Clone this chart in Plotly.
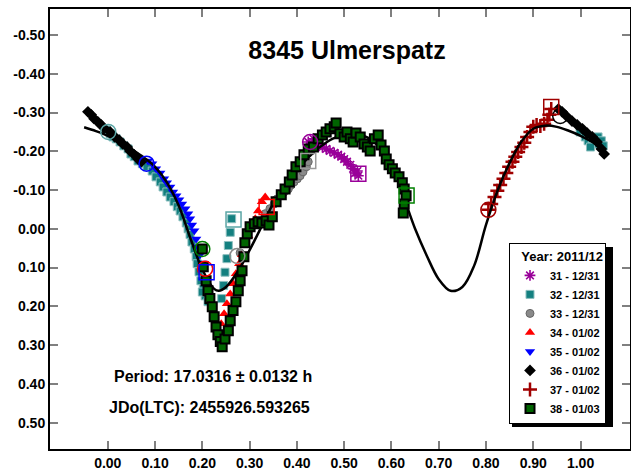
import plotly.graph_objects as go

# ---------------- data ----------------
# fitted Fourier curve
curve_phase = [-0.050, -0.025, 0.000, 0.025, 0.050, 0.075, 0.100, 0.125, 0.150, 0.175,
               0.200, 0.225, 0.235, 0.250, 0.275, 0.300, 0.325, 0.350, 0.375, 0.400,
               0.425, 0.450, 0.475, 0.500, 0.525, 0.550, 0.575, 0.600, 0.625, 0.650,
               0.675, 0.700, 0.725, 0.750, 0.775, 0.800, 0.825, 0.850, 0.875, 0.900,
               0.925, 0.950, 0.975, 1.000, 1.025, 1.050]
curve_mag = [-0.262, -0.252, -0.240, -0.224, -0.205, -0.185, -0.160, -0.120, -0.060, 0.025,
             0.105, 0.155, 0.160, 0.150, 0.110, 0.055, -0.005, -0.065, -0.110, -0.150,
             -0.185, -0.212, -0.232, -0.243, -0.245, -0.235, -0.210, -0.165, -0.085, 0.000,
             0.070, 0.130, 0.160, 0.150, 0.095, -0.010, -0.100, -0.170, -0.225, -0.258,
             -0.266, -0.263, -0.253, -0.240, -0.224, -0.205]

s31_phase = [0.424, 0.435, 0.445, 0.454, 0.462, 0.470, 0.479, 0.487, 0.494, 0.500,
             0.506, 0.513, 0.519, 0.523, 0.530, 0.528]
s31_mag = [-0.224, -0.232, -0.219, -0.211, -0.206, -0.201, -0.196, -0.191, -0.186, -0.180,
           -0.173, -0.165, -0.155, -0.144, -0.137, -0.149]

s32_phase = [-0.004, 0.005, 0.011, 0.018, 0.026, 0.034, 0.043, 0.049, 0.056, 0.064, 0.073,
             0.083, 0.094, 0.102, 0.111, 0.117, 0.125, 0.132, 0.140, 0.147, 0.153,
             0.159, 0.166, 0.170, 0.174, 0.178, 0.183, 0.187, 0.189, 0.193, 0.197,
             0.202, 0.206, 0.212, 0.200,
             0.241, 0.245, 0.248, 0.252, 0.255, 0.259, 0.262,
             0.999, 1.010, 1.016, 1.025, 1.031, 1.037, 1.044, 1.048, 1.021]
s32_mag = [-0.255, -0.245, -0.237, -0.232, -0.224, -0.214, -0.206, -0.193, -0.186, -0.175, -0.168,
           -0.160, -0.149, -0.134, -0.121, -0.108, -0.095, -0.082, -0.070, -0.057, -0.046,
           -0.031, -0.015, 0.000, 0.015, 0.034, 0.052, 0.072, 0.090, 0.111, 0.134,
           0.155, 0.173, 0.188, 0.163,
           0.180, 0.146, 0.112, 0.077, 0.043, 0.009, -0.026,
           -0.250, -0.237, -0.227, -0.232, -0.219, -0.237, -0.227, -0.214, -0.211]

s33_phase = [0.280, 0.286, 0.333, 0.343, 0.352, 0.358, 0.367, 0.373, 0.382, 0.388,
             0.394, 0.401, 0.407, 0.413, 0.420, 0.424]
s33_mag = [0.062, 0.072, -0.039, -0.052, -0.064, -0.077, -0.088, -0.095, -0.103, -0.113,
           -0.121, -0.129, -0.137, -0.147, -0.160, -0.173]

s34_phase = [0.240, 0.246, 0.252, 0.259, 0.265, 0.271, 0.278, 0.284, 0.290, 0.297,
             0.303, 0.312, 0.318, 0.326, 0.333]
s34_mag = [0.245, 0.219, 0.193, 0.168, 0.142, 0.116, 0.090, 0.067, 0.041, 0.018,
           -0.005, -0.026, -0.046, -0.070, -0.082]

s35_phase = [0.085, 0.094, 0.102, 0.111, 0.119, 0.125, 0.132, 0.138, 0.145, 0.151,
             0.157, 0.164, 0.170, 0.174, 0.178, 0.183, 0.187, 0.191, 0.195, 0.200]
s35_mag = [-0.175, -0.168, -0.155, -0.144, -0.129, -0.119, -0.108, -0.095, -0.085, -0.075,
           -0.064, -0.052, -0.039, -0.026, -0.010, 0.005, 0.026, 0.046, 0.067, 0.088]

s36_phase = [-0.042, -0.035, -0.029, -0.021, -0.014, -0.008, 0.005, 0.015, 0.024, 0.032,
             0.041, 0.047, 0.056, 0.064, 0.071,
             0.953, 0.961, 0.970, 0.982, 0.993, 1.004, 1.014, 1.025, 1.035, 1.044, 1.050]
s36_mag = [-0.302, -0.294, -0.284, -0.276, -0.268, -0.260, -0.250, -0.237, -0.229, -0.219,
           -0.211, -0.201, -0.191, -0.180, -0.173,
           -0.309, -0.302, -0.291, -0.278, -0.268, -0.258, -0.247, -0.237, -0.224, -0.206, -0.193]

s37_phase = [0.805, 0.811, 0.818, 0.824, 0.830, 0.837, 0.843, 0.849, 0.856, 0.862,
             0.868, 0.875, 0.881, 0.887, 0.894, 0.900, 0.907, 0.915, 0.923, 0.930,
             0.934, 0.938]
s37_mag = [-0.049, -0.064, -0.082, -0.098, -0.113, -0.129, -0.144, -0.160, -0.173, -0.186,
           -0.198, -0.211, -0.222, -0.237, -0.250, -0.263, -0.268, -0.265, -0.271, -0.281,
           -0.294, -0.309]

s38_phase = [0.200, 0.202, 0.208, 0.212, 0.216, 0.221, 0.225, 0.229, 0.233, 0.238, 0.242,
             0.248, 0.255, 0.259, 0.265, 0.271, 0.276, 0.280, 0.284, 0.288, 0.290, 0.295,
             0.301, 0.310, 0.318, 0.326, 0.335, 0.341, 0.348, 0.356, 0.367, 0.375, 0.384,
             0.390, 0.398, 0.407, 0.415, 0.424, 0.435, 0.445, 0.454, 0.462, 0.470, 0.479,
             0.483, 0.491, 0.500, 0.506, 0.513, 0.519, 0.525, 0.534, 0.542, 0.549, 0.555,
             0.564, 0.572, 0.578, 0.585, 0.589, 0.595, 0.602, 0.608, 0.616, 0.623, 0.627,
             0.631, 0.627, 0.625]
s38_mag = [0.052, 0.098, 0.134, 0.160, 0.180, 0.201, 0.227, 0.253, 0.273, 0.291, 0.304,
           0.284, 0.263, 0.237, 0.211, 0.188, 0.160, 0.134, 0.108, 0.072, 0.036, 0.013,
           -0.005, -0.013, -0.018, -0.015, -0.021, -0.010, -0.031, -0.070, -0.088, -0.103, -0.121,
           -0.139, -0.160, -0.173, -0.191, -0.206, -0.211, -0.232, -0.242, -0.250, -0.258, -0.263,
           -0.273, -0.245, -0.237, -0.250, -0.232, -0.224, -0.247, -0.237, -0.219, -0.211, -0.201,
           -0.232, -0.242, -0.216, -0.201, -0.180, -0.165, -0.155, -0.144, -0.134, -0.119, -0.103,
           -0.085, -0.064, -0.041]

# first / last point markers of each session
first_phase = [0.428, 0.001, 0.274, 0.206, 0.082, 0.957, 0.805, 0.200]
first_mag = [-0.224, -0.250, 0.070, 0.103, -0.168, -0.291, -0.049, 0.052]
last_phase = [0.530, 0.266, 0.424, 0.336, 0.209, 0.938, 0.632]
last_mag = [-0.142, -0.024, -0.175, -0.056, 0.112, -0.314, -0.086]

series_names = ["31 - 12/31", "32 - 12/31", "33 - 12/31", "34 - 01/02",
                "35 - 01/02", "36 - 01/02", "37 - 01/02", "38 - 01/03"]

x_tickvals = [0.0, 0.1, 0.2, 0.3, 0.4, 0.5, 0.6, 0.7, 0.8, 0.9, 1.0]
x_ticktext = ["0.00", "0.10", "0.20", "0.30", "0.40", "0.50", "0.60", "0.70", "0.80", "0.90", "1.00"]
y_tickvals = [-0.5, -0.4, -0.3, -0.2, -0.1, 0.0, 0.1, 0.2, 0.3, 0.4, 0.5]
y_ticktext = ["-0.50", "-0.40", "-0.30", "-0.20", "-0.10", "0.00", "0.10", "0.20", "0.30", "0.40", "0.50"]

# ---------------- styles ----------------
FONT = "Liberation Sans, Arial, sans-serif"
styles = [
    dict(symbol="asterisk-open", size=9, color="#990099", line=dict(color="#990099", width=1.6)),
    dict(symbol="square", size=8, color="#148080", line=dict(color="#8cbfbf", width=1)),
    dict(symbol="circle", size=8, color="#8a8a8a", line=dict(color="#666666", width=1)),
    dict(symbol="triangle-up", size=9, color="#ff0000", line=dict(color="#ff0000", width=0)),
    dict(symbol="triangle-down", size=9, color="#0000ff", line=dict(color="#0000ff", width=0)),
    dict(symbol="diamond", size=9, color="#000000", line=dict(color="#000000", width=0)),
    dict(symbol="cross-thin-open", size=10, color="#a00000", line=dict(color="#a00000", width=2.5)),
    dict(symbol="square", size=9, color="#006400", line=dict(color="#000000", width=2)),
]
colors = ["#990099", "#5aa5a5", "#8a8a8a", "#ff0000", "#0000ff", "#000000", "#a00000", "#008000"]

series = [(s31_phase, s31_mag), (s32_phase, s32_mag), (s33_phase, s33_mag), (s34_phase, s34_mag),
          (s35_phase, s35_mag), (s36_phase, s36_mag), (s37_phase, s37_mag), (s38_phase, s38_mag)]

fig = go.Figure()
for i in range(7):
    px, mg = series[i]
    fig.add_trace(go.Scatter(x=px, y=mg, mode="markers", name=series_names[i],
                             marker=styles[i], legendrank=i + 1))

fig.add_trace(go.Scatter(x=curve_phase, y=curve_mag, mode="lines",
                         line=dict(color="black", width=2.5, shape="spline"),
                         showlegend=False, hoverinfo="skip"))

px, mg = series[7]
fig.add_trace(go.Scatter(x=px, y=mg, mode="markers", name=series_names[7],
                         marker=styles[7], legendrank=8))

fig.add_trace(go.Scatter(x=first_phase, y=first_mag, mode="markers", showlegend=False,
                         marker=dict(symbol="circle-open", size=15, color=colors, line=dict(width=1.5))))
fig.add_trace(go.Scatter(x=last_phase, y=last_mag, mode="markers", showlegend=False,
                         marker=dict(symbol="square-open", size=15,
                                     color=[colors[0], colors[1], "#9a9a9a", colors[3], colors[4], colors[6], colors[7]],
                                     line=dict(width=1.5))))

axis_common = dict(showgrid=False, zeroline=False, showline=True, linecolor="black", linewidth=2,
                   mirror="ticks", ticks="inside", ticklen=8, tickwidth=1.5, tickcolor="#808080",
                   automargin=False,
                   tickfont=dict(family=FONT, size=14, color="black", weight="bold"))

# legend box (pixels) used for the drop shadow
LEG_X0, LEG_X1, LEG_Y0, LEG_Y1 = 509, 610, 244, 424

fig.update_layout(
    width=631, height=470,
    margin=dict(l=50, r=1, t=9, b=21, autoexpand=False),
    paper_bgcolor="white", plot_bgcolor="white",
    xaxis=dict(range=[-0.1222, 1.1046], tickvals=x_tickvals, ticktext=x_ticktext, **axis_common),
    yaxis=dict(range=[0.568, -0.567], tickvals=y_tickvals, ticktext=y_ticktext, **axis_common),
    title=dict(text="8345 Ulmerspatz", x=347 / 631, xanchor="center", xref="container",
               y=1 - 50 / 470, yanchor="middle", yref="container",
               font=dict(family=FONT, size=25, color="black", weight="bold")),
    legend=dict(x=(509 - 50) / 580, xanchor="left", y=(449 - 424) / 440, yanchor="bottom",
                bgcolor="white", bordercolor="black", borderwidth=1,
                font=dict(family=FONT, size=11, color="black", weight="bold"),
                title=dict(text="Year: 2011/12", side="top right",
                           font=dict(family=FONT, size=13, color="black", weight="bold")),
                tracegroupgap=0),
    shapes=[dict(type="rect", xref="paper", yref="paper", layer="above",
                 x0=(LEG_X0 + 3 - 50) / 580, x1=(LEG_X1 + 3 - 50) / 580,
                 y0=(449 - LEG_Y1 - 3) / 440, y1=(449 - LEG_Y0 - 3) / 440,
                 fillcolor="black", line=dict(width=0))],
    annotations=[
        dict(text="Period: 17.0316 ± 0.0132 h", x=(213 - 50) / 580, y=(449 - 376) / 440,
             xref="paper", yref="paper", showarrow=False, xanchor="center", yanchor="middle",
             font=dict(family=FONT, size=16, color="black", weight="bold")),
        dict(text="JDo(LTC): 2455926.593265", x=(209 - 50) / 580, y=(449 - 407) / 440,
             xref="paper", yref="paper", showarrow=False, xanchor="center", yanchor="middle",
             font=dict(family=FONT, size=16, color="black", weight="bold")),
    ],
    showlegend=True,
)

fig.write_html("out.html", post_script="document.body.style.margin='0';",
               config={"displayModeBar": False})
